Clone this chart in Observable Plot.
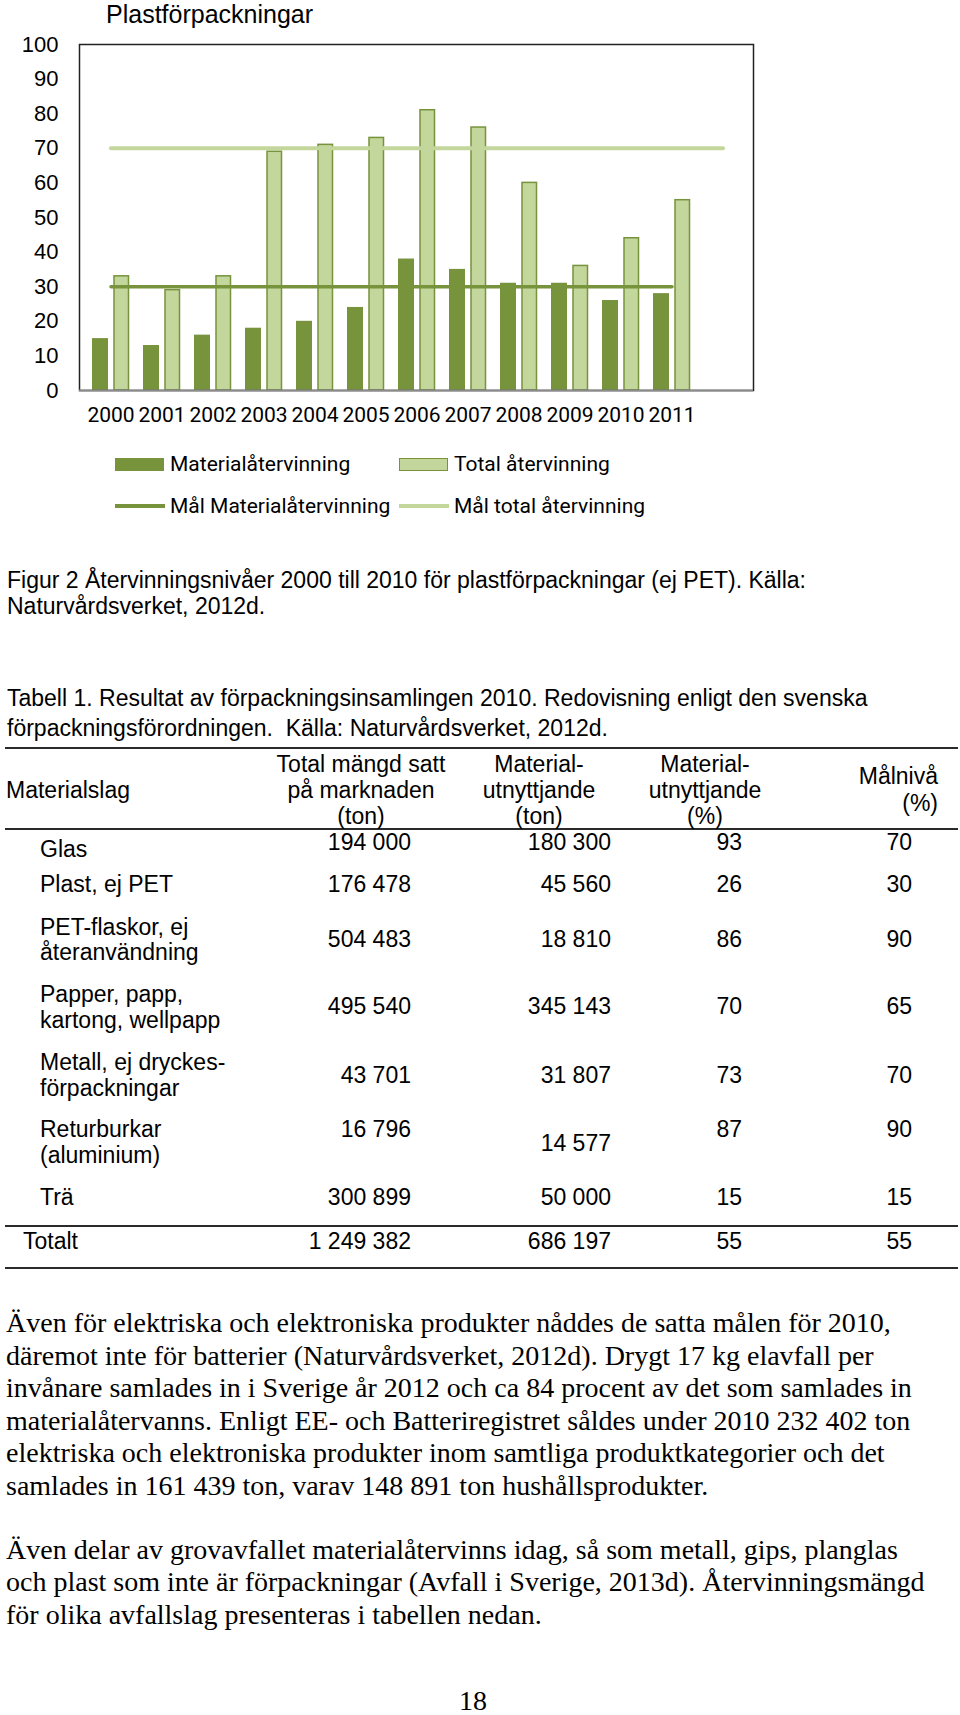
<!DOCTYPE html>
<html>
<head>
<meta charset="utf-8">
<script src="https://cdn.jsdelivr.net/npm/d3@7"></script>
<script src="https://cdn.jsdelivr.net/npm/@observablehq/plot@0.6"></script>
<style>
  html, body { margin: 0; padding: 0; background: #fff; }
  #page { position: relative; width: 960px; height: 1715px; overflow: hidden; background: #fff; color: #000; }
  .t { position: absolute; white-space: pre; line-height: 1; }
  .arial { font-family: "Liberation Sans", Arial, sans-serif; }
  .times { font-family: "Liberation Serif", "Times New Roman", serif; }
  .rob { font-family: Roboto, sans-serif; }
  .rule { position: absolute; height: 2px; background: #2a2a2a; }
  #chart { position: absolute; left: 0; top: 0; }
</style>
</head>
<body>
<div id="page"></div>
<script>
// ---------- chart data ----------
const years = ["2000","2001","2002","2003","2004","2005","2006","2007","2008","2009","2010","2011","2012"];
const yearLabels = ["2000","2001","2002","2003","2004","2005","2006","2007","2008","2009","2010","2011"];
const materialRecycling = [15, 13, 16, 18, 20, 24, 38, 35, 31, 31, 26, 28];
const totalRecycling = [33, 29, 33, 69, 71, 73, 81, 76, 60, 36, 44, 55];
const goalMaterial = [30, 30, 30, 30, 30, 30, 30, 30, 30, 30, 30, 30];
const goalTotal = [70, 70, 70, 70, 70, 70, 70, 70, 70, 70, 70, 70, 70];
const yTicks = [0, 10, 20, 30, 40, 50, 60, 70, 80, 90, 100];
const chartTitle = "Plastförpackningar";
const seriesNames = ["Materialåtervinning", "Total återvinning", "Mål Materialåtervinning", "Mål total återvinning"];

// ---------- table data ----------
const tableHeaders = [["Materialslag"], ["Total mängd satt", "på marknaden", "(ton)"], ["Material-", "utnyttjande", "(ton)"], ["Material-", "utnyttjande", "(%)"], ["Målnivå", "(%)"]];
const materials = [["Glas"], ["Plast, ej PET"], ["PET-flaskor, ej", "återanvändning"], ["Papper, papp,", "kartong, wellpapp"], ["Metall, ej dryckes-", "förpackningar"], ["Returburkar", "(aluminium)"], ["Trä"]];
const marketTon = ["194 000", "176 478", "504 483", "495 540", "43 701", "16 796", "300 899"];
const recycledTon = ["180 300", "45 560", "18 810", "345 143", "31 807", "14 577", "50 000"];
const recycledPct = ["93", "26", "86", "70", "73", "87", "15"];
const targetPct = ["70", "30", "90", "65", "70", "90", "15"];
const totalRow = ["Totalt", "1 249 382", "686 197", "55", "55"];

// ---------- text ----------
const figCaption = ["Figur 2 Återvinningsnivåer 2000 till 2010 för plastförpackningar (ej PET). Källa:", "Naturvårdsverket, 2012d."];
const tableCaption = ["Tabell 1. Resultat av förpackningsinsamlingen 2010. Redovisning enligt den svenska", "förpackningsförordningen.  Källa: Naturvårdsverket, 2012d."];
const para1 = [
  "Även för elektriska och elektroniska produkter nåddes de satta målen för 2010,",
  "däremot inte för batterier (Naturvårdsverket, 2012d). Drygt 17 kg elavfall per",
  "invånare samlades in i Sverige år 2012 och ca 84 procent av det som samlades in",
  "materialåtervanns. Enligt EE- och Batteriregistret såldes under 2010 232 402 ton",
  "elektriska och elektroniska produkter inom samtliga produktkategorier och det",
  "samlades in 161 439 ton, varav 148 891 ton hushållsprodukter."
];
const para2 = [
  "Även delar av grovavfallet materialåtervinns idag, så som metall, gips, planglas",
  "och plast som inte är förpackningar (Avfall i Sverige, 2013d). Återvinningsmängd",
  "för olika avfallslag presenteras i tabellen nedan."
];
const pageNumber = "18";

// ---------- drawing ----------
const DARK = "#77933c";
const LIGHT = "#c3d69b";
const page = document.getElementById("page");

function place(text, x, y, {anchor = "start", cls = "arial", size = 23, color = "#000", lh = 1} = {}) {
  const d = document.createElement("div");
  d.className = "t " + cls;
  d.textContent = text;
  d.style.fontSize = size + "px";
  d.style.lineHeight = lh;
  d.style.left = x + "px";
  d.style.top = y + "px";
  d.style.color = color;
  const tx = anchor === "middle" ? "-50%" : anchor === "end" ? "-100%" : "0";
  d.style.transform = `translate(${tx}, -50%)`;
  page.appendChild(d);
  return d;
}
function rule(y, x1 = 5, x2 = 958) {
  const r = document.createElement("div");
  r.className = "rule";
  r.style.left = x1 + "px";
  r.style.width = (x2 - x1) + "px";
  r.style.top = (y - 1) + "px";
  page.appendChild(r);
}

const matRows = yearLabels.map((year, i) => ({year, value: materialRecycling[i]}));
const totRows = yearLabels.map((year, i) => ({year, value: totalRecycling[i]}));
const goalMatRows = goalMaterial.map((value, i) => ({year: years[i], value}));
const goalTotRows = goalTotal.map((value, i) => ({year: years[i], value}));

const chart = Plot.plot({
  width: 960,
  height: 432,
  marginLeft: 79,
  marginRight: 207,
  marginTop: 44,
  marginBottom: 42,
  style: {fontFamily: "'Liberation Sans', Arial, sans-serif", fontSize: "21px", background: "transparent", overflow: "visible"},
  x: {type: "band", domain: years, paddingInner: 0, paddingOuter: 0},
  y: {domain: [0, 100]},
  marks: [
    Plot.axisY({ticks: yTicks, tickSize: 0, tickPadding: 21, fontSize: 22, label: null, fill: "#000"}),
    Plot.axisX({ticks: yearLabels, tickSize: 0, tickPadding: 16.5, fontSize: 21, fontFamily: "Roboto, sans-serif", label: null, fill: "#000"}),
    Plot.barY(matRows, {x: "year", y: "value", fill: DARK, insetLeft: 7, insetRight: 28}),
    Plot.barY(totRows, {x: "year", y: "value", fill: LIGHT, stroke: DARK, strokeWidth: 1.5, insetLeft: 29, insetRight: 7.5}),
    Plot.lineY(goalTotRows, {x: "year", y: "value", stroke: LIGHT, strokeWidth: 4}),
    Plot.lineY(goalMatRows, {x: "year", y: "value", stroke: DARK, strokeWidth: 3.5}),
    Plot.frame({stroke: "#222", strokeWidth: 1.5}),
    Plot.ruleY([0], {stroke: "#8c8c8c", strokeWidth: 2})
  ]
});
chart.id = "chart";
page.appendChild(chart);

// chart title
place(chartTitle, 106, 14, {size: 25});

// legend
function legendItem(x, y, kind, label, color) {
  const s = document.createElement("div");
  s.style.position = "absolute";
  if (kind === "rect") {
    s.style.left = x + "px"; s.style.top = (y - 6.5) + "px";
    s.style.width = "49px"; s.style.height = "13px";
    s.style.background = color;
    if (color === LIGHT) { s.style.boxSizing = "border-box"; s.style.border = "1.5px solid " + DARK; }
  } else {
    s.style.left = x + "px"; s.style.top = (y - 2) + "px";
    s.style.width = "50px"; s.style.height = "4px";
    s.style.background = color;
  }
  page.appendChild(s);
  place(label, x + 55, y, {cls: "rob", size: 21});
}
legendItem(115, 464, "rect", seriesNames[0], DARK);
legendItem(399, 464, "rect", seriesNames[1], LIGHT);
legendItem(115, 506, "line", seriesNames[2], DARK);
legendItem(399, 506, "line", seriesNames[3], LIGHT);

// captions
figCaption.forEach((line, i) => place(line, 7, [580, 606][i]));
tableCaption.forEach((line, i) => place(line, 7, [698, 728][i]));

// table
rule(748); rule(829); rule(1226); rule(1268);
place(tableHeaders[0][0], 6, 790);
const headX = [361, 539, 705];
[1, 2, 3].forEach((c, k) => tableHeaders[c].forEach((line, i) => place(line, headX[k], [764, 790, 816][i], {anchor: "middle"})));
tableHeaders[4].forEach((line, i) => place(line, 938, [776, 803][i], {anchor: "end"}));

const labelY = [[849], [884], [927, 952], [994, 1020], [1062, 1088], [1129, 1155], [1197]];
const valueY = [842, 884, 939, 1006, 1075, 1129, 1197];
const col3Y = [842, 884, 939, 1006, 1075, 1143, 1197];
const colRight = [411, 611, 742, 912];
materials.forEach((lines, r) => {
  lines.forEach((line, i) => place(line, 40, labelY[r][i]));
  place(marketTon[r], colRight[0], valueY[r], {anchor: "end"});
  place(recycledTon[r], colRight[1], col3Y[r], {anchor: "end"});
  place(recycledPct[r], colRight[2], valueY[r], {anchor: "end"});
  place(targetPct[r], colRight[3], valueY[r], {anchor: "end"});
});
place(totalRow[0], 23, 1241);
totalRow.slice(1).forEach((v, i) => place(v, colRight[i], 1241, {anchor: "end"}));

// body text
para1.forEach((line, i) => place(line, 6, 1323 + i * 32.6, {cls: "times", size: 28}));
para2.forEach((line, i) => place(line, 6, 1550 + i * 32.4, {cls: "times", size: 28}));
place(pageNumber, 473, 1701, {cls: "times", size: 28, anchor: "middle", lh: 0.8});
</script>
</body>
</html>
